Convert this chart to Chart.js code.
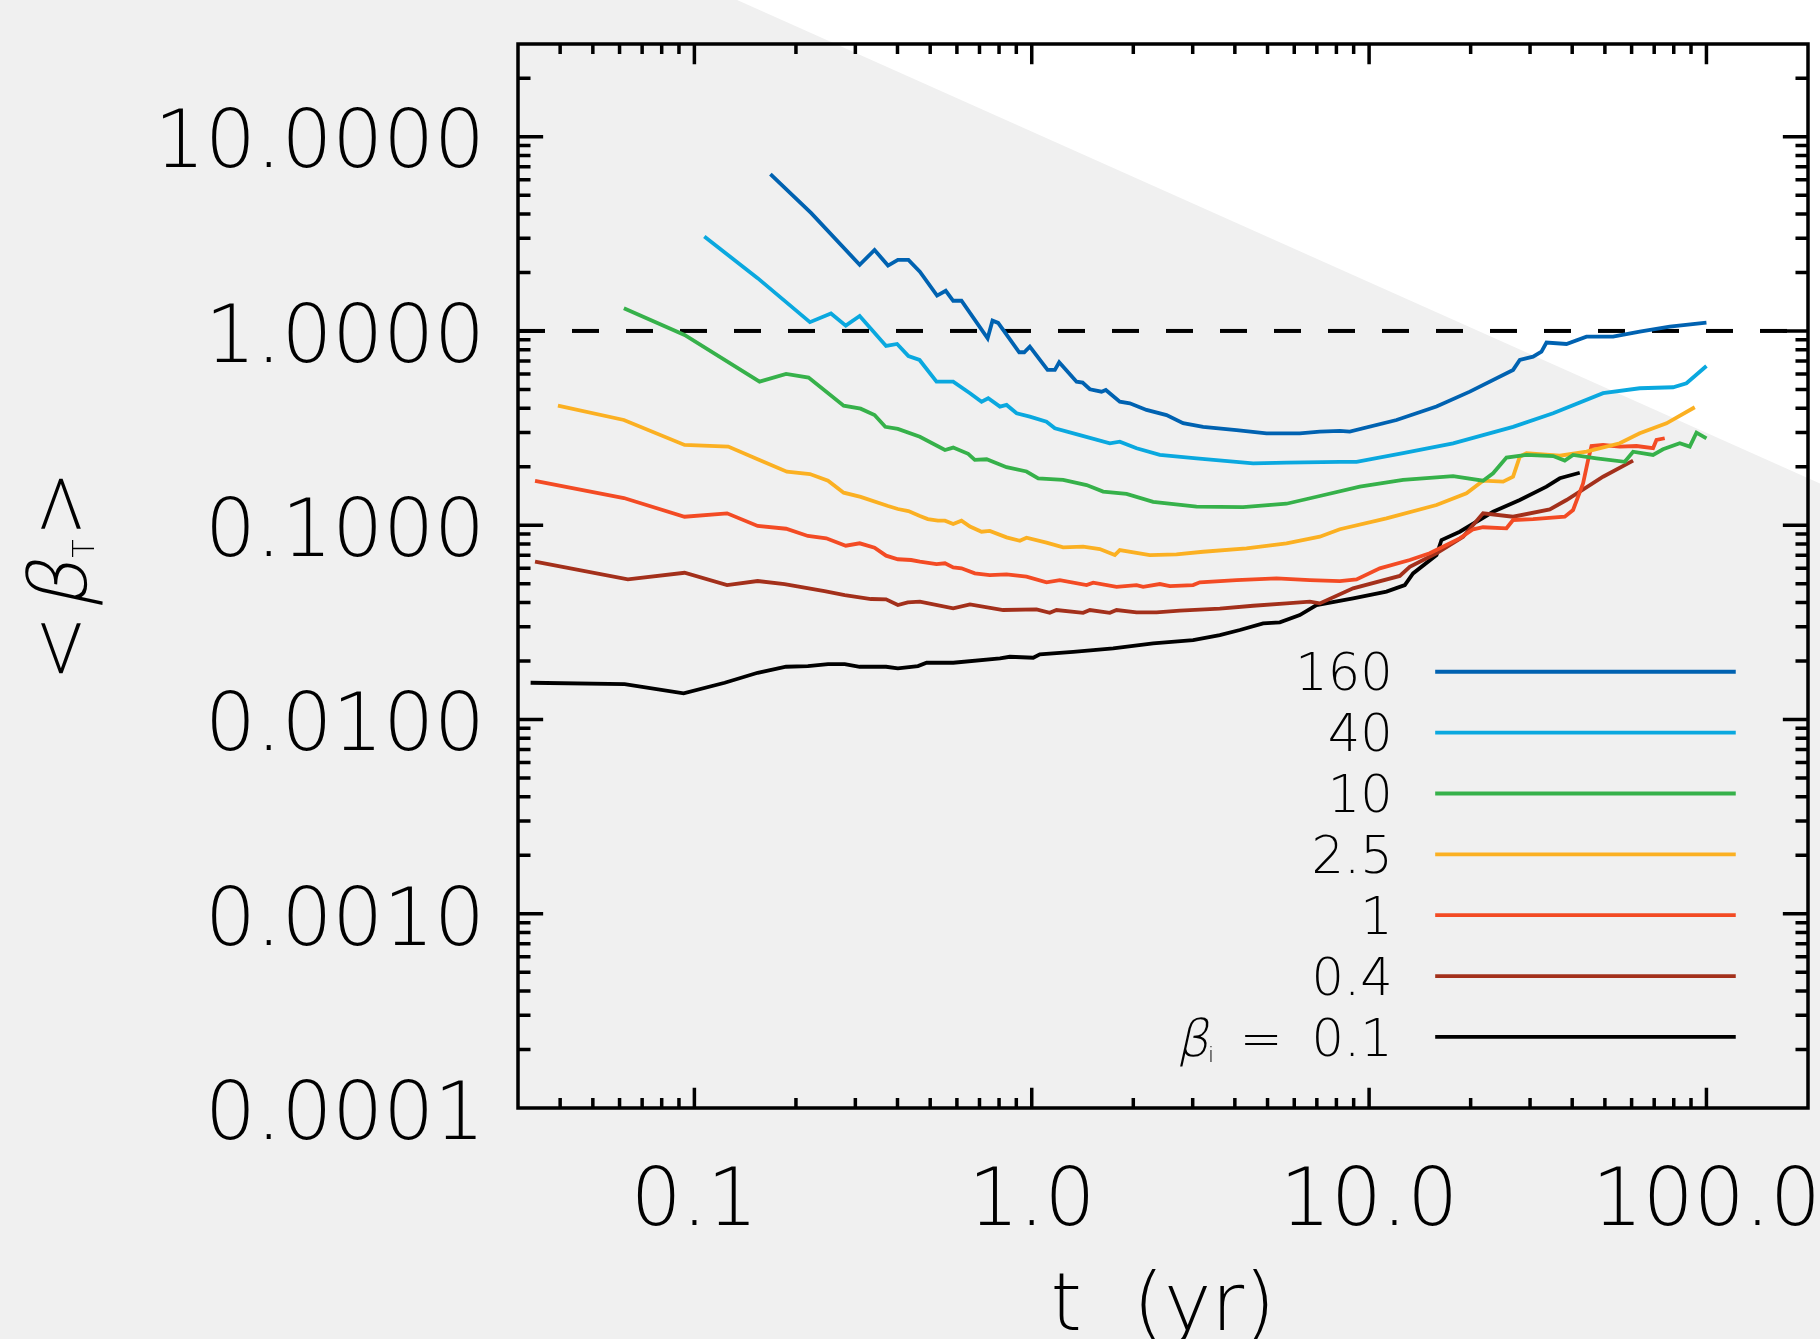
<!DOCTYPE html>
<html>
<head>
<meta charset="utf-8">
<script src="https://cdn.jsdelivr.net/npm/chart.js@4.4.0/dist/chart.umd.min.js"></script>
<style>
  html, body { margin: 0; padding: 0; background: #f0f0f0; }
  canvas { display: block; }
</style>
</head>
<body>
<canvas id="chart" width="1820" height="1339"></canvas>
<script>
// legend order, top to bottom
const seriesLabels = ['160', '40', '10', '2.5', '1', '0.4', '0.1'];
const seriesColors = ['#0062b1', '#0aa8df', '#36b14a', '#fbb022', '#f34b24', '#a3301b', '#000000'];

// t (yr) and <beta_T>
const t160 = [0.168, 0.222, 0.309, 0.342, 0.375, 0.401, 0.431, 0.466, 0.524, 0.556, 0.585, 0.619, 0.740, 0.765, 0.795, 0.918, 0.950, 0.987, 1.114, 1.171, 1.206, 1.358, 1.415, 1.487, 1.610, 1.658, 1.824, 1.953, 2.189, 2.509, 2.810, 3.221, 4.046, 4.966, 6.231, 7.143, 8.190, 8.766, 12.06, 15.84, 19.89, 26.72, 27.97, 30.63, 32.43, 33.56, 38.47, 44.10, 52.87, 63.43, 77.85, 100];
const beta160 = [6.41, 4.04, 2.19, 2.61, 2.17, 2.32, 2.32, 2.02, 1.52, 1.61, 1.43, 1.43, 0.917, 1.13, 1.10, 0.777, 0.777, 0.830, 0.630, 0.630, 0.690, 0.548, 0.542, 0.501, 0.487, 0.497, 0.4325, 0.4244, 0.392, 0.369, 0.335, 0.321, 0.309, 0.297, 0.297, 0.303, 0.306, 0.303, 0.348, 0.408, 0.487, 0.630, 0.709, 0.737, 0.782, 0.871, 0.857, 0.935, 0.935, 0.992, 1.052, 1.103];

const t40 = [0.107, 0.154, 0.220, 0.254, 0.281, 0.309, 0.370, 0.399, 0.431, 0.465, 0.522, 0.585, 0.656, 0.710, 0.743, 0.805, 0.842, 0.902, 0.987, 1.106, 1.171, 1.389, 1.704, 1.824, 2.045, 2.397, 3.079, 4.531, 5.691, 8.190, 9.178, 12.61, 17.74, 26.72, 35.11, 49.38, 63.43, 79.62, 87.25, 100];
const beta40 = [3.06, 1.87, 1.11, 1.23, 1.065, 1.195, 0.837, 0.857, 0.743, 0.709, 0.548, 0.548, 0.478, 0.4325, 0.450, 0.408, 0.416, 0.377, 0.362, 0.341, 0.3155, 0.291, 0.264, 0.269, 0.249, 0.230, 0.221, 0.208, 0.210, 0.212, 0.212, 0.235, 0.264, 0.321, 0.377, 0.478, 0.507, 0.513, 0.538, 0.660];

const t10 = [0.0618, 0.0935, 0.156, 0.187, 0.218, 0.277, 0.311, 0.342, 0.368, 0.401, 0.466, 0.553, 0.585, 0.648, 0.678, 0.735, 0.842, 0.965, 1.045, 1.239, 1.454, 1.628, 1.910, 2.290, 3.079, 4.232, 5.691, 7.143, 9.385, 12.61, 17.74, 21.77, 23.31, 25.54, 29.28, 35.11, 38.02, 40.24, 47.21, 57.27, 60.61, 69.45, 74.35, 83.35, 89.23, 93.42, 100];
const beta10 = [1.31, 0.954, 0.548, 0.601, 0.575, 0.4125, 0.398, 0.369, 0.321, 0.313, 0.2855, 0.244, 0.251, 0.233, 0.217, 0.2185, 0.199, 0.189, 0.174, 0.171, 0.161, 0.149, 0.145, 0.132, 0.1245, 0.124, 0.129, 0.1414, 0.158, 0.171, 0.179, 0.1695, 0.185, 0.223, 0.230, 0.227, 0.215, 0.230, 0.221, 0.212, 0.239, 0.230, 0.246, 0.264, 0.254, 0.2995, 0.280];

const t2p5 = [0.0394, 0.0618, 0.0935, 0.126, 0.154, 0.188, 0.220, 0.249, 0.277, 0.311, 0.375, 0.401, 0.431, 0.466, 0.492, 0.527, 0.553, 0.585, 0.619, 0.656, 0.710, 0.751, 0.842, 0.922, 0.965, 1.106, 1.239, 1.420, 1.591, 1.763, 1.824, 2.239, 2.686, 3.221, 4.331, 5.691, 7.143, 8.190, 11.26, 15.84, 19.44, 21.77, 24.96, 26.72, 27.97, 29.28, 36.75, 44.10, 55.34, 63.43, 76.13, 92.33];
const beta2p5 = [0.4125, 0.348, 0.259, 0.254, 0.2185, 0.1886, 0.1835, 0.1695, 0.147, 0.140, 0.1256, 0.1212, 0.1183, 0.1115, 0.1076, 0.1055, 0.1055, 0.1014, 0.1055, 0.0984, 0.0926, 0.0934, 0.0866, 0.0832, 0.0862, 0.0813, 0.0769, 0.0775, 0.0754, 0.0702, 0.0745, 0.0702, 0.0708, 0.0730, 0.0760, 0.0807, 0.0873, 0.0953, 0.1085, 0.1271, 0.146, 0.1695, 0.1675, 0.1777, 0.2253, 0.2346, 0.2279, 0.2390, 0.264, 0.2973, 0.3346, 0.4047];

const t1 = [0.0337, 0.0618, 0.0935, 0.125, 0.154, 0.187, 0.217, 0.246, 0.281, 0.309, 0.342, 0.370, 0.401, 0.439, 0.466, 0.522, 0.553, 0.585, 0.619, 0.678, 0.751, 0.842, 0.965, 1.106, 1.211, 1.454, 1.521, 1.784, 2.045, 2.139, 2.397, 2.567, 3.008, 3.150, 4.046, 5.316, 6.673, 8.190, 9.178, 10.76, 13.20, 15.13, 16.96, 18.57, 20.34, 21.77, 25.54, 26.72, 30.63, 38.02, 40.24, 43.09, 44.59, 45.63, 49.38, 55.34, 62.01, 69.45, 71.10, 75.21];
const beta1 = [0.169, 0.138, 0.1106, 0.1151, 0.0991, 0.0959, 0.088, 0.0856, 0.0784, 0.0807, 0.0766, 0.0697, 0.0668, 0.0662, 0.0649, 0.0631, 0.0637, 0.0607, 0.0600, 0.0565, 0.0554, 0.0559, 0.0543, 0.0508, 0.0522, 0.0492, 0.0506, 0.0482, 0.0492, 0.0482, 0.0498, 0.0486, 0.0492, 0.0508, 0.0522, 0.0533, 0.0522, 0.0516, 0.0526, 0.0600, 0.0662, 0.0717, 0.0791, 0.0856, 0.0953, 0.0976, 0.0964, 0.1064, 0.1076, 0.1106, 0.1197, 0.1643, 0.2167, 0.2557, 0.2588, 0.2536, 0.2557, 0.249, 0.2746, 0.2803];

const t0p4 = [0.0337, 0.0635, 0.0935, 0.125, 0.154, 0.185, 0.243, 0.279, 0.334, 0.370, 0.401, 0.429, 0.466, 0.585, 0.656, 0.823, 1.033, 1.131, 1.184, 1.420, 1.487, 1.704, 1.784, 2.045, 2.344, 2.748, 3.610, 4.531, 5.691, 6.673, 7.143, 8.966, 12.33, 13.20, 15.84, 19.00, 21.77, 26.72, 34.33, 38.47, 42.12, 49.38, 60.61];
const beta0p4 = [0.0649, 0.0526, 0.0569, 0.0492, 0.0516, 0.0498, 0.0458, 0.0437, 0.0417, 0.0415, 0.0388, 0.0401, 0.0404, 0.0373, 0.0391, 0.0366, 0.0369, 0.0354, 0.0366, 0.0354, 0.0366, 0.0354, 0.0366, 0.0356, 0.0356, 0.0363, 0.0372, 0.0385, 0.0396, 0.0404, 0.0396, 0.0473, 0.0548, 0.0611, 0.0717, 0.0873, 0.1151, 0.1106, 0.1207, 0.1348, 0.1488, 0.1777, 0.2149];

const t0p1 = [0.0327, 0.0621, 0.0929, 0.123, 0.154, 0.187, 0.217, 0.249, 0.279, 0.309, 0.370, 0.401, 0.460, 0.488, 0.585, 0.805, 0.861, 1.010, 1.057, 1.327, 1.743, 2.290, 3.008, 3.610, 4.139, 4.852, 5.437, 6.231, 6.984, 8.966, 11.26, 12.76, 13.50, 15.84, 16.39, 18.57, 23.31, 27.97, 33.56, 36.75, 42.12];
const beta0p1 = [0.01545, 0.01522, 0.01363, 0.01545, 0.01739, 0.01868, 0.01884, 0.01929, 0.01929, 0.01868, 0.01868, 0.01833, 0.01884, 0.01959, 0.01959, 0.02064, 0.02103, 0.02078, 0.02163, 0.02231, 0.02323, 0.02465, 0.02563, 0.02720, 0.02887, 0.03125, 0.03162, 0.03448, 0.0388, 0.0420, 0.0455, 0.0492, 0.0565, 0.0702, 0.0839, 0.0926, 0.1173, 0.1348, 0.1579, 0.1744, 0.1863];

const seriesT = [t160, t40, t10, t2p5, t1, t0p4, t0p1];
const seriesBeta = [beta160, beta40, beta10, beta2p5, beta1, beta0p4, beta0p1];

// dashed reference level
const refBeta = 1;

// axes
const xMin = 0.03, xMax = 200;
const yMin = 0.0001, yMax = 30;
const xMajor = [0.1, 1, 10, 100];
const xTickLabels = ['0.1', '1.0', '10.0', '100.0'];
const yMajor = [0.0001, 0.001, 0.01, 0.1, 1, 10];
const yTickLabels = ['0.0001', '0.0010', '0.0100', '0.1000', '1.0000', '10.0000'];

const FONT = 'DejaVu Sans';
const TICK_SIZE = 80;
const LEGEND_SIZE = 51;
const LINE_W = 3.8;

function logTicks(min, max) {
  const out = [];
  for (let e = Math.floor(Math.log10(min)); e <= Math.ceil(Math.log10(max)); e++) {
    for (let m = 1; m <= 9; m++) {
      const v = parseFloat((m * Math.pow(10, e)).toPrecision(4));
      if (v >= min * 0.999 && v <= max * 1.001) out.push({ value: v, major: m === 1 });
    }
  }
  return out;
}

// thin slanted glyph (the light face has no italic)
function slanted(ctx, text, x, y) {
  ctx.save();
  ctx.translate(x, y);
  ctx.transform(1, 0, -0.22, 1, 0, 0);
  ctx.fillText(text, 0, 0);
  ctx.restore();
}

const datasets = seriesLabels.map((lab, i) => ({
  label: lab,
  data: seriesT[i].map((t, j) => ({ x: t, y: seriesBeta[i][j] })),
  borderColor: seriesColors[i],
  borderWidth: LINE_W,
  pointRadius: 0,
  fill: false,
  tension: 0
}));
datasets.push({
  label: 'ref',
  data: [{ x: xMin, y: refBeta }, { x: xMax, y: refBeta }],
  borderColor: '#000',
  borderWidth: 4,
  borderDash: [27, 27],
  pointRadius: 0,
  fill: false
});

// background: grey page with a white corner wedge
const backdrop = {
  id: 'backdrop',
  beforeDraw(chart) {
    const { ctx, width, height } = chart;
    ctx.save();
    ctx.fillStyle = '#f0f0f0';
    ctx.fillRect(0, 0, width, height);
    ctx.fillStyle = '#ffffff';
    ctx.beginPath();
    ctx.moveTo(width * 0.405, 0);
    ctx.lineTo(width, 0);
    ctx.lineTo(width, height * 0.361);
    ctx.closePath();
    ctx.fill();
    ctx.restore();
  }
};

// IDL-style box with inward ticks, titles and legend
const frame = {
  id: 'frame',
  afterDatasetsDraw(chart) {
    const { ctx, chartArea: a, scales: { x, y } } = chart;
    const w = a.right - a.left, h = a.bottom - a.top;
    ctx.save();
    ctx.strokeStyle = '#000';
    ctx.lineWidth = 3.5;
    ctx.strokeRect(a.left, a.top, w, h);
    ctx.beginPath();
    x.ticks.forEach(t => {
      const px = x.getPixelForValue(t.value);
      if (px < a.left + 2 || px > a.right - 2) return;
      const len = (t.major ? 0.019 : 0.0095) * h;
      ctx.moveTo(px, a.bottom); ctx.lineTo(px, a.bottom - len);
      ctx.moveTo(px, a.top); ctx.lineTo(px, a.top + len);
    });
    y.ticks.forEach(t => {
      const py = y.getPixelForValue(t.value);
      if (py < a.top + 2 || py > a.bottom - 2) return;
      const len = (t.major ? 0.0195 : 0.0097) * w;
      ctx.moveTo(a.left, py); ctx.lineTo(a.left + len, py);
      ctx.moveTo(a.right, py); ctx.lineTo(a.right - len, py);
    });
    ctx.stroke();

    ctx.fillStyle = '#000';
    // x title
    ctx.font = `200 ${TICK_SIZE}px ${FONT}`;
    ctx.textAlign = 'center';
    ctx.textBaseline = 'alphabetic';
    ctx.fillText('t  (yr)', (a.left + a.right) / 2, 1330);

    // y title  <beta_T>
    ctx.save();
    ctx.translate(86, (a.top + a.bottom) / 2);
    ctx.rotate(-Math.PI / 2);
    ctx.textAlign = 'left';
    const big = `200 ${TICK_SIZE}px ${FONT}`;
    const sub = `200 30px ${FONT}`;
    // text, font, baseline shift, slanted, extra space after
    const parts = [['<', big, 0, false, 0], ['\u03B2', big, 0, true, 6], ['T', sub, 8, false, 2], ['>', big, 0, false, 0]];
    let total = 0;
    parts.forEach(p => { ctx.font = p[1]; total += ctx.measureText(p[0]).width + p[4]; });
    let u = -total / 2;
    parts.forEach(p => {
      ctx.font = p[1];
      if (p[3]) slanted(ctx, p[0], u + 4, p[2]); else ctx.fillText(p[0], u, p[2]);
      u += ctx.measureText(p[0]).width + p[4];
    });
    ctx.restore();

    // legend
    const right = a.left + 0.678 * w;
    const lx0 = a.left + 0.711 * w, lx1 = a.left + 0.944 * w;
    const y0 = a.top + 0.590 * h, dy = 0.0572 * h;
    const F = LEGEND_SIZE;
    chart.data.datasets.forEach((ds, i) => {
      if (i >= seriesLabels.length) return;
      const ly = y0 + i * dy;
      ctx.strokeStyle = ds.borderColor;
      ctx.lineWidth = LINE_W;
      ctx.beginPath();
      ctx.moveTo(lx0, ly); ctx.lineTo(lx1, ly);
      ctx.stroke();
      ctx.fillStyle = '#000';
      ctx.textAlign = 'right';
      ctx.textBaseline = 'alphabetic';
      ctx.font = `200 ${F}px ${FONT}`;
      const base = ly + 0.3645 * F;
      ctx.fillText(ds.label, right, base);
      if (i === seriesLabels.length - 1) {
        let xr = right - ctx.measureText(ds.label).width - 0.57 * F;
        ctx.fillText('=', xr, base);
        xr -= ctx.measureText('=').width + 0.5 * F;
        ctx.font = `200 22px ${FONT}`;
        ctx.fillText('i', xr, base + 6);
        xr -= ctx.measureText('i').width + 1;
        ctx.font = `200 ${F}px ${FONT}`;
        ctx.textAlign = 'left';
        slanted(ctx, '\u03B2', xr - ctx.measureText('\u03B2').width + 2, base);
      }
    });
    ctx.restore();
  }
};

new Chart(document.getElementById('chart'), {
  type: 'line',
  data: { datasets },
  options: {
    responsive: false,
    devicePixelRatio: 1,
    animation: false,
    layout: { padding: { left: 0, top: 44, right: 12, bottom: 0 } },
    plugins: { legend: { display: false }, tooltip: { enabled: false } },
    scales: {
      x: {
        type: 'logarithmic',
        position: 'bottom',
        min: xMin,
        max: xMax,
        afterBuildTicks: s => { s.ticks = logTicks(xMin, xMax); },
        afterFit: s => { s.height = 231; },
        grid: { display: false, drawTicks: false },
        border: { display: false },
        ticks: {
          autoSkip: false,
          maxRotation: 0,
          minRotation: 0,
          padding: 0,
          color: '#000',
          font: { family: FONT, size: TICK_SIZE, weight: 200, lineHeight: 2.4 },
          callback: v => { const k = xMajor.indexOf(v); return k < 0 ? '' : xTickLabels[k]; }
        }
      },
      y: {
        type: 'logarithmic',
        position: 'left',
        min: yMin,
        max: yMax,
        afterBuildTicks: s => { s.ticks = logTicks(yMin, yMax); },
        afterFit: s => { s.width = 518; },
        grid: { display: false, drawTicks: false },
        border: { display: false },
        ticks: {
          autoSkip: false,
          padding: 33,
          labelOffset: 10,
          color: '#000',
          font: { family: FONT, size: TICK_SIZE, weight: 200, lineHeight: 0.2 },
          callback: v => { const k = yMajor.indexOf(v); return k < 0 ? '' : yTickLabels[k]; }
        }
      }
    }
  },
  plugins: [backdrop, frame]
});
</script>
</body>
</html>
